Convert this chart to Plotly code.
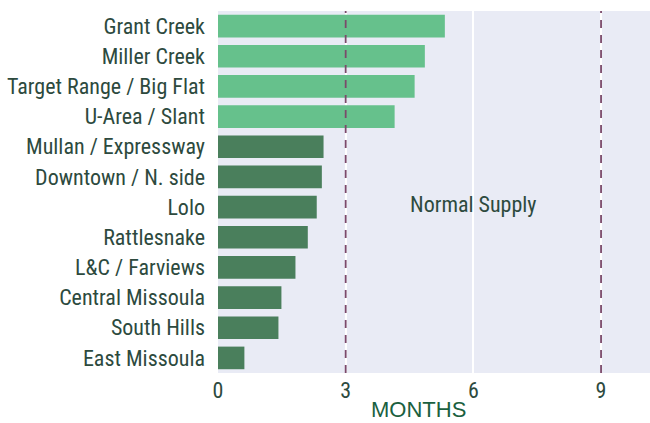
import plotly.graph_objects as go

# Months of water supply remaining by neighbourhood
areas = ["Grant Creek", "Miller Creek", "Target Range / Big Flat", "U-Area / Slant",
         "Mullan / Expressway", "Downtown / N. side", "Lolo", "Rattlesnake",
         "L&C / Farviews", "Central Missoula", "South Hills", "East Missoula"]
months = [5.33, 4.86, 4.62, 4.15, 2.48, 2.44, 2.32, 2.11, 1.82, 1.49, 1.42, 0.62]
tiers = ["high", "high", "high", "high", "low", "low", "low", "low", "low", "low", "low", "low"]
tick_vals = [0, 3, 6, 9]
normal_bounds = [3, 9]

tier_colors = {"high": "#66c18c", "low": "#4a7f5c"}
font_family = "Roboto Condensed, Liberation Sans Narrow, Arial Narrow, sans-serif"
text_color = "#2d4a3e"

fig = go.Figure()
fig.add_trace(go.Bar(
    x=months, y=areas, orientation="h",
    marker=dict(color=[tier_colors[t] for t in tiers], line=dict(width=0)),
    showlegend=False, hoverinfo="x+y",
))

for b in normal_bounds:
    fig.add_vline(x=b, line=dict(color="#7b4a6b", width=1.8, dash="8px,7px"), layer="above")

fig.add_annotation(x=6, y="Lolo", text="Normal Supply", showarrow=False, yshift=3,
                   font=dict(family=font_family, size=22, color=text_color))

# x-axis title placed as a paper annotation
fig.add_annotation(x=0.464, y=-0.102, xref="paper", yref="paper", text="MONTHS",
                   showarrow=False, xanchor="center", yanchor="middle", borderpad=0,
                   font=dict(family="Liberation Sans, Arial, sans-serif", size=22, color="#1a6040"))

fig.update_layout(
    width=650, height=423,
    margin=dict(l=218, r=0, t=11, b=50),
    paper_bgcolor="white", plot_bgcolor="#e9ebf5",
    bargap=0.25,
    font=dict(family=font_family, size=22, color=text_color),
    xaxis=dict(range=[0, 10.15], tickvals=tick_vals, showgrid=True, gridcolor="white",
               gridwidth=2, zeroline=False, ticks="", ticklen=0, ticklabelstandoff=2,
               tickfont=dict(size=22, color=text_color)),
    yaxis=dict(categoryorder="array", categoryarray=areas[::-1], showgrid=False,
               ticks="", ticklabelstandoff=12, tickfont=dict(size=22, color=text_color)),
)

fig.write_html("out.html")
